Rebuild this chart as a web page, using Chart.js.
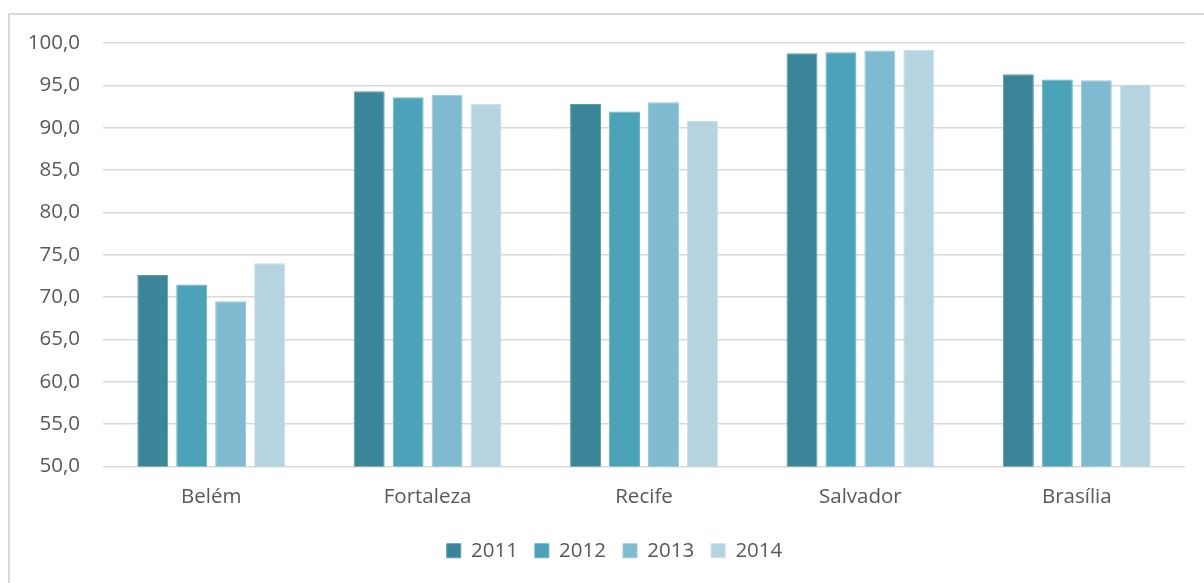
<!DOCTYPE html>
<html>
<head>
<meta charset="utf-8">
<script src="https://cdn.jsdelivr.net/npm/chart.js@4/dist/chart.umd.min.js"></script>
<style>
  html, body { margin: 0; padding: 0; background: #ffffff; overflow: hidden; }
  #wrap { position: relative; width: 1204px; height: 583px; }
  #frame { position: absolute; left: 8px; top: 13px; width: 1220px; height: 600px; border: 2px solid #d9d9d9; box-sizing: border-box; }
  canvas { position: absolute; left: 0; top: 0; }
</style>
</head>
<body>
<div id="wrap">
  <div id="frame"></div>
  <canvas id="c" width="1204" height="583"></canvas>
</div>
<script>
const categories = ['Belém', 'Fortaleza', 'Recife', 'Salvador', 'Brasília'];
const seriesNames = ['2011', '2012', '2013', '2014'];
const values2011 = [72.6, 94.3, 92.8, 98.8, 96.3];
const values2012 = [71.5, 93.6, 91.9, 98.9, 95.7];
const values2013 = [69.5, 93.9, 93.0, 99.1, 95.6];
const values2014 = [74.0, 92.8, 90.8, 99.2, 95.1];
const yMin = 50, yMax = 100, yStep = 5;

const colors = ['#3a8598', '#4aa3b9', '#7fbbd0', '#b6d4e0'];
const borders = ['#5d9aab', '#6bb3c5', '#97c9da', '#c8e0e9'];
const seriesValues = [values2011, values2012, values2013, values2014];

const FONT = '"Open Sans", "Noto Sans", sans-serif';
const TEXT = '#595959';
const FS = 20.5;

const legendShift = {
  id: 'legendShift',
  afterLayout(chart) {
    if (chart.legend) { chart.legend.left += 17; chart.legend.right += 17; }
  }
};

new Chart(document.getElementById('c'), {
  type: 'bar',
  plugins: [legendShift],
  data: {
    labels: categories,
    datasets: seriesNames.map((n, i) => ({
      label: n,
      data: seriesValues[i],
      backgroundColor: colors[i],
      borderColor: borders[i],
      borderWidth: 1,
      categoryPercentage: 0.72,
      barPercentage: 0.795
    }))
  },
  options: {
    responsive: false,
    animation: false,
    devicePixelRatio: 1,
    layout: { padding: { top: 43, bottom: 12, left: 10, right: 19 } },
    plugins: {
      legend: {
        position: 'bottom',
        labels: {
          boxWidth: 14,
          boxHeight: 14,
          padding: 17,
          color: TEXT,
          font: { family: FONT, size: FS }
        }
      },
      tooltip: { enabled: false }
    },
    scales: {
      x: {
        grid: { display: false, drawTicks: false },
        border: { display: false },
        ticks: { color: TEXT, font: { family: FONT, size: FS }, padding: 18 },
        afterFit: s => { s.height = 57; }
      },
      y: {
        min: yMin,
        max: yMax,
        grid: { color: '#d9d9d9', lineWidth: 1.5, drawTicks: false },
        border: { display: false },
        ticks: {
          stepSize: yStep,
          padding: 23,
          color: TEXT,
          font: { family: FONT, size: FS },
          callback: v => v.toFixed(1).replace('.', ',')
        },
        afterFit: s => { s.width = 93; }
      }
    }
  }
});
</script>
</body>
</html>
